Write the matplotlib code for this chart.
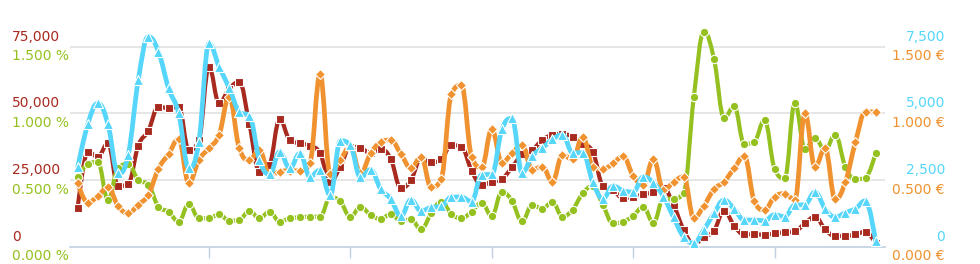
import numpy as np
import matplotlib
matplotlib.use("Agg")
import matplotlib.pyplot as plt
from matplotlib.path import Path
from matplotlib.patches import PathPatch


RED = '#A8291E'
GREEN = '#94C11F'
ORANGE = '#F0922F'
CYAN = '#55D6FA'

# visits (left axis, red)
visits = [14400, 35600, 33750, 38750, 22750, 23500, 37900, 43500, 52500, 51900,
          52500, 36250, 40000, 67500, 53750, 59250, 61750, 46000, 28000, 30750,
          47750, 40000, 38750, 37900, 35000, 24400, 30000, 37500, 37100, 35000,
          36500, 32900, 21900, 25000, 33100, 31600, 32750, 38100, 37500, 28500,
          23100, 24400, 25400, 29750, 34600, 36250, 40000, 41900, 42250, 41250,
          38500, 35600, 22750, 21250, 18250, 18750, 19600, 20500, 21900, 15600,
          6250, 1000, 3600, 6000, 13500, 7750, 4600, 4600, 4500, 5000,
          5400, 5750, 8750, 11250, 6500, 4000, 4000, 4600, 5600, 1250]

# conversion rate in % (left axis, green)
conversion = [0.525, 0.62, 0.635, 0.35, 0.59, 0.62, 0.5, 0.465, 0.3, 0.263,
              0.188, 0.32, 0.213, 0.213, 0.243, 0.195, 0.2, 0.268, 0.213, 0.263,
              0.188, 0.213, 0.22, 0.225, 0.225, 0.37, 0.34, 0.223, 0.298, 0.238,
              0.208, 0.245, 0.193, 0.205, 0.13, 0.25, 0.338, 0.245, 0.213, 0.263,
              0.33, 0.23, 0.413, 0.343, 0.19, 0.313, 0.285, 0.335, 0.225, 0.278,
              0.4, 0.455, 0.313, 0.175, 0.188, 0.23, 0.3, 0.178, 0.36, 0.36,
              0.405, 1.12, 1.613, 1.408, 0.965, 1.053, 0.77, 0.788, 0.95, 0.585,
              0.513, 1.078, 0.735, 0.813, 0.725, 0.84, 0.6, 0.505, 0.518, 0.7]

# cost per click in EUR (right axis, orange)
cpc = [0.475, 0.33, 0.38, 0.445, 0.305, 0.25, 0.315, 0.39, 0.585, 0.695,
       0.808, 0.478, 0.65, 0.74, 0.838, 1.125, 0.738, 0.65, 0.725, 0.535,
       0.563, 0.57, 0.568, 0.63, 1.293, 0.545, 0.65, 0.75, 0.55, 0.7,
       0.783, 0.8, 0.695, 0.59, 0.673, 0.445, 0.51, 1.145, 1.21, 0.675,
       0.595, 0.88, 0.63, 0.7, 0.763, 0.578, 0.6, 0.488, 0.688, 0.655,
       0.825, 0.6, 0.58, 0.625, 0.678, 0.53, 0.463, 0.658, 0.425, 0.485,
       0.525, 0.215, 0.308, 0.43, 0.488, 0.588, 0.68, 0.34, 0.275, 0.375,
       0.398, 0.35, 1.0, 0.6, 0.738, 0.355, 0.483, 0.783, 1.013, 1.008]

# clicks (right axis, cyan)
clicks = [2975, 4590, 5375, 4590, 2750, 3440, 6250, 7875, 7310, 5940,
          5000, 2950, 3940, 7625, 6750, 5960, 5060, 4910, 3250, 2710,
          3560, 2940, 3500, 2625, 2875, 1925, 3975, 3800, 2600, 2890,
          2160, 1790, 1150, 1760, 1340, 1475, 1510, 1860, 1860, 1690,
          2700, 2710, 4400, 4810, 2775, 3400, 3700, 4025, 4200, 3525,
          3525, 2425, 1800, 2275, 2100, 2050, 2625, 2400, 1875, 1100,
          360, 140, 640, 1250, 1750, 1410, 1000, 1000, 975, 1200,
          1125, 1560, 1575, 2050, 1425, 1110, 1275, 1425, 1725, 200]

VISIT_TICKS = [0, 25000, 50000, 75000]
CONV_TICKS = [0, 0.5, 1.0, 1.5]
CLICK_TICKS = [0, 2500, 5000, 7500]
CPC_TICKS = [0, 0.5, 1.0, 1.5]
X_TICKS = [13, 27, 41, 55, 69]


def spline_path(x, y, smoothing=1.5):
    # bezier control points the way highcharts builds its spline
    n = len(x)
    lc = [(x[i], y[i]) for i in range(n)]
    rc = [(x[i], y[i]) for i in range(n)]
    den = smoothing + 1
    for i in range(1, n - 1):
        lx = (smoothing * x[i] + x[i - 1]) / den
        ly = (smoothing * y[i] + y[i - 1]) / den
        rx = (smoothing * x[i] + x[i + 1]) / den
        ry = (smoothing * y[i] + y[i + 1]) / den
        corr = (ry - ly) * (rx - x[i]) / (rx - lx) + y[i] - ry
        ly += corr
        ry += corr
        if ly > y[i - 1] and ly > y[i]:
            ly = max(y[i - 1], y[i]); ry = 2 * y[i] - ly
        elif ly < y[i - 1] and ly < y[i]:
            ly = min(y[i - 1], y[i]); ry = 2 * y[i] - ly
        if ry > y[i + 1] and ry > y[i]:
            ry = max(y[i + 1], y[i]); ly = 2 * y[i] - ry
        elif ry < y[i + 1] and ry < y[i]:
            ry = min(y[i + 1], y[i]); ly = 2 * y[i] - ry
        lc[i] = (lx, ly)
        rc[i] = (rx, ry)
    verts = [(x[0], y[0])]
    codes = [Path.MOVETO]
    for i in range(1, n):
        verts += [rc[i - 1], lc[i], (x[i], y[i])]
        codes += [Path.CURVE4] * 3
    return Path(verts, codes)


def draw_series(ax, values, color, marker, ms, lw):
    x = np.arange(len(values), dtype=float)
    y = np.asarray(values, dtype=float)
    patch = PathPatch(spline_path(x, y), fill=False, edgecolor=color, lw=lw,
                      capstyle='round', joinstyle='round', clip_on=False)
    ax.add_patch(patch)
    ax.plot(x, y, linestyle='none', marker=marker, ms=ms, color=color,
            markeredgecolor='white', markeredgewidth=0.8, clip_on=False)


def main():
    W, H = 980, 264
    fig = plt.figure(figsize=(W / 100, H / 100), dpi=100)
    left, right, bottom, top = 70, 885, 246.7, 10
    ax = fig.add_axes([left / W, (H - bottom) / H, (right - left) / W, (bottom - top) / H])
    k = (bottom - top) / 200.0  # plot height relative to the 0..75,000 span

    axg = ax.twinx()
    axo = ax.twinx()
    axc = ax.twinx()
    ax.set_ylim(0, 75000 * k)
    axg.set_ylim(0, 1.5 * k)
    axo.set_ylim(0, 1.5 * k)
    axc.set_ylim(0, 7500 * k)

    for a in (ax, axg, axo, axc):
        a.set_xlim(-0.76, 79.93)
        for s in a.spines.values():
            s.set_visible(False)
        a.set_yticks([])
        a.patch.set_visible(False)

    for v in VISIT_TICKS[1:]:
        ax.axhline(v, color='#E6E6E6', lw=1.4, zorder=0)
    ax.spines['bottom'].set_visible(True)
    ax.spines['bottom'].set_color('#C0D0E0')
    ax.spines['bottom'].set_linewidth(1.2)
    ax.set_xticks(X_TICKS)
    ax.set_xticklabels([])
    ax.tick_params(axis='x', direction='out', length=8, width=1, color='#C0D0E0')
    for a in (axg, axo, axc):
        a.tick_params(axis='x', length=0)

    draw_series(ax, visits, RED, 's', 5.5, 3.0)
    draw_series(axg, conversion, GREEN, 'o', 6, 3.0)
    draw_series(axo, cpc, ORANGE, 'D', 4.8, 3.4)
    draw_series(axc, clicks, CYAN, '^', 6.5, 3.4)

    fs = 10
    lx = -(left - 12) * 0.72
    rx = (945 - right) * 0.72
    for v in VISIT_TICKS:
        ax.annotate('{:,}'.format(v), xy=(0, v), xycoords=ax.get_yaxis_transform(),
                    xytext=(lx, 7.2), textcoords='offset points',
                    ha='left', va='center', color=RED, fontsize=fs)
    for v in CONV_TICKS:
        axg.annotate('{:.3f} %'.format(v), xy=(0, v), xycoords=axg.get_yaxis_transform(),
                     xytext=(lx, -7), textcoords='offset points',
                     ha='left', va='center', color=GREEN, fontsize=fs)
    for v in CLICK_TICKS:
        axc.annotate('{:,}'.format(v), xy=(1, v), xycoords=axc.get_yaxis_transform(),
                     xytext=(rx, 7.2), textcoords='offset points',
                     ha='right', va='center', color=CYAN, fontsize=fs)
    for v in CPC_TICKS:
        axo.annotate('{:.3f} €'.format(v), xy=(1, v), xycoords=axo.get_yaxis_transform(),
                     xytext=(rx, -7), textcoords='offset points',
                     ha='right', va='center', color=ORANGE, fontsize=fs)

    fig.savefig('out.png', dpi=100)


if __name__ == '__main__':
    main()
